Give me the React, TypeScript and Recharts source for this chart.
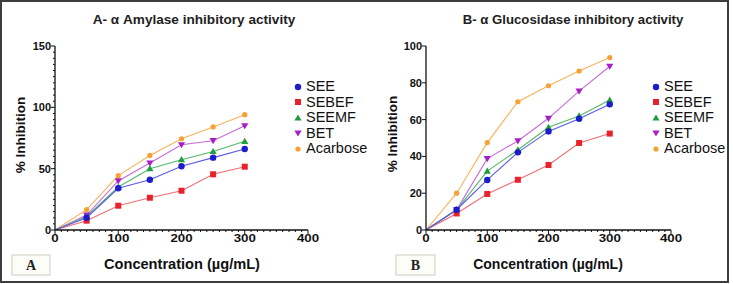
import React from "react";
import { LineChart, Line, XAxis, YAxis, Legend } from "recharts";

// ---------- data ----------
const concentrations = [0, 50, 100, 150, 200, 250, 300];

const seriesNames = ["SEE", "SEBEF", "SEEMF", "BET", "Acarbose"];

// Panel A – α Amylase
const amylaseSEE = [0, 10, 34, 41, 52, 59, 66];
const amylaseSEBEF = [0, 7.6, 19.8, 26.3, 32, 45.4, 51.6];
const amylaseSEEMF = [0, 11, 35, 50, 57.3, 64, 72.3];
const amylaseBET = [0, 12.2, 40, 54.6, 69.5, 72.8, 85];
const amylaseAcarbose = [0, 16.6, 44.3, 60.8, 74.4, 84, 94];

// Panel B – α Glucosidase
const glucoSEE = [0, 11, 27.2, 42.2, 53.6, 60.5, 68.3];
const glucoSEBEF = [0, 9, 19.6, 27.3, 35.3, 47.3, 52.4];
const glucoSEEMF = [0, 11, 32, 43.5, 55.8, 62, 70.6];
const glucoBET = [0, 11, 38.8, 48.4, 60.7, 75.5, 89];
const glucoAcarbose = [0, 20, 47.5, 69.7, 78.4, 86.4, 93.7];

const xMajorTicks = [0, 100, 200, 300, 400];
const yMajorTicksA = [0, 50, 100, 150];
const yMajorTicksB = [0, 20, 40, 60, 80, 100];

// ---------- styles ----------
const FONT = "'Liberation Sans', Arial, Helvetica, sans-serif";
const markerColors: Record<string, string> = {
  SEE: "#1c1ccc",
  SEBEF: "#e8212b",
  SEEMF: "#1f9e3c",
  BET: "#a61fc4",
  Acarbose: "#f7a132",
};
const lineColors: Record<string, string> = {
  SEE: "#5b5be6",
  SEBEF: "#ef6f72",
  SEEMF: "#55b86a",
  BET: "#c66ad9",
  Acarbose: "#f8b25a",
};
const shapes: Record<string, string> = {
  SEE: "circle",
  SEBEF: "square",
  SEEMF: "triUp",
  BET: "triDown",
  Acarbose: "small",
};

function Marker({ cx, cy, name }: { cx: number; cy: number; name: string }) {
  const c = markerColors[name];
  const s = shapes[name];
  if (s === "circle") return <circle cx={cx} cy={cy} r={3.2} fill={c} />;
  if (s === "square") return <rect x={cx - 3} y={cy - 3} width={6} height={6} fill={c} />;
  if (s === "triUp")
    return <polygon points={`${cx},${cy - 3.6} ${cx + 3.6},${cy + 2.6} ${cx - 3.6},${cy + 2.6}`} fill={c} />;
  if (s === "triDown")
    return <polygon points={`${cx},${cy + 3.6} ${cx + 3.6},${cy - 2.6} ${cx - 3.6},${cy - 2.6}`} fill={c} />;
  return <circle cx={cx} cy={cy} r={2.6} fill={c} />;
}

function makeDot(name: string) {
  return (props: any) => {
    const { cx, cy, index } = props;
    if (index === 0 || cx == null || cy == null) return <g key={`d-${name}-${index}`} />;
    return (
      <g key={`d-${name}-${index}`}>
        <Marker cx={cx} cy={cy} name={name} />
      </g>
    );
  };
}

function buildRows(values: number[][]) {
  return concentrations.map((c, i) => {
    const row: any = { x: c };
    seriesNames.forEach((n, k) => (row[n] = values[k][i]));
    return row;
  });
}

const dataA = buildRows([amylaseSEE, amylaseSEBEF, amylaseSEEMF, amylaseBET, amylaseAcarbose]);
const dataB = buildRows([glucoSEE, glucoSEBEF, glucoSEEMF, glucoBET, glucoAcarbose]);

function range(from: number, to: number, step: number) {
  const out: number[] = [];
  for (let v = from; v <= to + 1e-9; v += step) out.push(Math.round(v * 100) / 100);
  return out;
}

function XTick(props: any) {
  const { x, y, payload } = props;
  const v = payload.value;
  const major = xMajorTicks.includes(v);
  const label = String(v);
  return (
    <g>
      <line x1={x} x2={x} y1={y} y2={y + (major ? 4 : 2)} stroke="#111" strokeWidth={1} />
      {major && (
        <text
          x={x}
          y={y + 11.5}
          textAnchor="middle"
          fontFamily={FONT}
          fontWeight="bold"
          fontSize={11}
          fill="#111"
          textLength={label.length * 7.4}
          lengthAdjust="spacingAndGlyphs"
        >
          {label}
        </text>
      )}
    </g>
  );
}

function makeYTick(majors: number[]) {
  return (props: any) => {
    const { x, y, payload } = props;
    const v = payload.value;
    const major = majors.includes(v);
    return (
      <g>
        <line x1={x} x2={x - (major ? 4 : 2)} y1={y} y2={y} stroke="#111" strokeWidth={1} />
        {major && (
          <text x={x - 4} y={y + 4} textAnchor="end" fontFamily={FONT} fontWeight="bold" fontSize={11} fill="#111">
            {v}
          </text>
        )}
      </g>
    );
  };
}

function LegendBox() {
  return (
    <div style={{ fontFamily: FONT, fontSize: 14.5, color: "#111", lineHeight: "15.5px" }}>
      {seriesNames.map((n) => (
        <div key={n} style={{ display: "flex", alignItems: "center", height: 15.5, whiteSpace: "nowrap" }}>
          <svg width={10} height={10} style={{ marginRight: 3 }}>
            <Marker cx={5} cy={5} name={n} />
          </svg>
          <span>{n}</span>
        </div>
      ))}
    </div>
  );
}

function Panel({
  data,
  yMax,
  yMajors,
  yMinorStep,
  width,
  yAxisWidth,
  rightMargin,
  legendPos,
}: {
  data: any[];
  yMax: number;
  yMajors: number[];
  yMinorStep: number;
  width: number;
  yAxisWidth: number;
  rightMargin: number;
  legendPos: { left: number; top: number };
}) {
  const drawOrder = ["Acarbose", "BET", "SEEMF", "SEBEF", "SEE"];
  return (
    <LineChart width={width} height={284} data={data} margin={{ top: 46, right: rightMargin, bottom: 24, left: 0 }}>
      <XAxis
        dataKey="x"
        type="number"
        domain={[0, 400]}
        ticks={range(0, 400, 10)}
        interval={0}
        tickSize={0}
        tickMargin={0}
        tickLine={false}
        axisLine={{ stroke: "#111", strokeWidth: 1.3 }}
        tick={(p: any) => <XTick {...p} />}
        height={30}
        allowDataOverflow
      />
      <YAxis
        type="number"
        domain={[0, yMax]}
        ticks={range(0, yMax, yMinorStep)}
        interval={0}
        tickSize={0}
        tickMargin={0}
        tickLine={false}
        axisLine={{ stroke: "#111", strokeWidth: 1.3 }}
        tick={makeYTick(yMajors)}
        width={yAxisWidth}
        allowDataOverflow
      />
      <Legend
        layout="vertical"
        align="center"
        verticalAlign="middle"
        content={() => <LegendBox />}
        wrapperStyle={{ left: legendPos.left, top: legendPos.top, width: 80, height: 80 }}
      />
      {drawOrder.map((n) => (
        <Line
          key={n}
          dataKey={n}
          name={n}
          type="linear"
          stroke={lineColors[n]}
          strokeWidth={1.1}
          dot={makeDot(n)}
          activeDot={false}
          isAnimationActive={false}
        />
      ))}
    </LineChart>
  );
}

export default function App() {
  return (
    <div style={{ position: "absolute", left: 0, top: 0, width: 733, height: 284, background: "#fff", overflow: "hidden" }}>
      <div style={{ position: "absolute", left: 0, top: 0 }}>
        <Panel
          data={dataA}
          yMax={150}
          yMajors={yMajorTicksA}
          yMinorStep={5}
          width={367}
          yAxisWidth={55}
          rightMargin={59}
          legendPos={{ left: 293, top: 79 }}
        />
      </div>
      <div style={{ position: "absolute", left: 367, top: 0 }}>
        <Panel
          data={dataB}
          yMax={100}
          yMajors={yMajorTicksB}
          yMinorStep={20}
          width={366}
          yAxisWidth={59}
          rightMargin={62}
          legendPos={{ left: 284, top: 79 }}
        />
      </div>
      <svg width={733} height={284} style={{ position: "absolute", left: 0, top: 0, pointerEvents: "none" }}>
        <rect x={1} y={1} width={727} height={281} fill="none" stroke="#3d3d3d" strokeWidth={2} />
        <text x={194} y={24} textAnchor="middle" fontFamily={FONT} fontWeight="bold" fontSize={13.6} fill="#222">
          A- α Amylase inhibitory activity
        </text>
        <text x={573} y={24} textAnchor="middle" fontFamily={FONT} fontWeight="bold" fontSize={13.2} fill="#222">
          B- α Glucosidase inhibitory activity
        </text>
        <text x={182} y={269} textAnchor="middle" fontFamily={FONT} fontWeight="bold" fontSize={14.6} fill="#111">
          Concentration (µg/mL)
        </text>
        <text x={548} y={269} textAnchor="middle" fontFamily={FONT} fontWeight="bold" fontSize={14} fill="#111">
          Concentration (µg/mL)
        </text>
        <text
          x={20}
          y={135}
          transform="rotate(-90, 20, 135)"
          textAnchor="middle"
          dominantBaseline="central"
          fontFamily={FONT}
          fontWeight="bold"
          fontSize={13.5}
          fill="#111"
        >
          % Inhibition
        </text>
        <text
          x={392}
          y={134}
          transform="rotate(-90, 392, 134)"
          textAnchor="middle"
          dominantBaseline="central"
          fontFamily={FONT}
          fontWeight="bold"
          fontSize={13.5}
          fill="#111"
        >
          % Inhibition
        </text>
        <rect x={12} y={255} width={38} height={20} fill="#fdfdf7" stroke="#c9cfbd" strokeWidth={1} />
        <text x={31} y={270} textAnchor="middle" fontFamily="'Liberation Serif', 'Times New Roman', serif" fontWeight="bold" fontSize={14} fill="#222">
          A
        </text>
        <rect x={396} y={255} width={39} height={20} fill="#fdfdf7" stroke="#c9cfbd" strokeWidth={1} />
        <text x={415.5} y={270} textAnchor="middle" fontFamily="'Liberation Serif', 'Times New Roman', serif" fontWeight="bold" fontSize={14} fill="#222">
          B
        </text>
      </svg>
    </div>
  );
}
